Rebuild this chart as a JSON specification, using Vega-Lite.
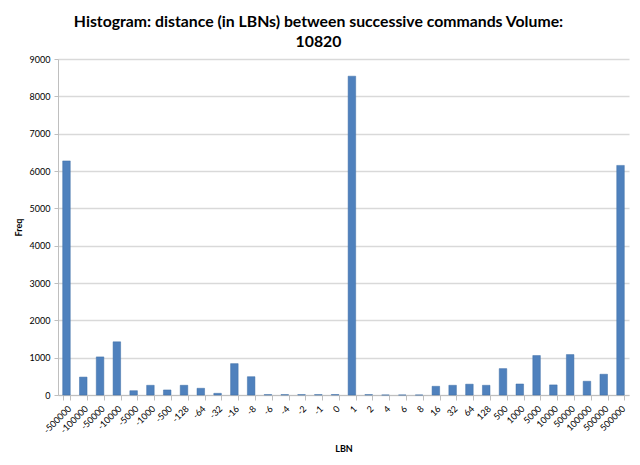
{
  "$schema": "https://vega.github.io/schema/vega-lite/v6.json",
  "width": 571,
  "height": 336,
  "autosize": "none",
  "padding": {"left": 58, "top": 59, "right": 11, "bottom": 70},
  "background": "white",
  "title": {
    "text": ["Histogram: distance (in LBNs) between successive commands Volume:", "10820"],
    "font": "Lato",
    "fontSize": 15.8,
    "fontWeight": "bold",
    "color": "#000000",
    "anchor": "middle",
    "dx": -25,
    "offset": 4,
    "lineHeight": 20
  },
  "data": {
    "values": [
      {"bin": "-500000", "freq": 6270},
      {"bin": "-100000", "freq": 480},
      {"bin": "-50000", "freq": 1020},
      {"bin": "-10000", "freq": 1425},
      {"bin": "-5000", "freq": 115},
      {"bin": "-1000", "freq": 260},
      {"bin": "-500", "freq": 135},
      {"bin": "-128", "freq": 260},
      {"bin": "-64", "freq": 180},
      {"bin": "-32", "freq": 45},
      {"bin": "-16", "freq": 840},
      {"bin": "-8", "freq": 490},
      {"bin": "-6", "freq": 10},
      {"bin": "-4", "freq": 10},
      {"bin": "-2", "freq": 10},
      {"bin": "-1", "freq": 10},
      {"bin": "0", "freq": 12},
      {"bin": "1", "freq": 8540},
      {"bin": "2", "freq": 10},
      {"bin": "4", "freq": 0},
      {"bin": "6", "freq": 0},
      {"bin": "8", "freq": 0},
      {"bin": "16", "freq": 233},
      {"bin": "32", "freq": 260},
      {"bin": "64", "freq": 290},
      {"bin": "128", "freq": 260},
      {"bin": "500", "freq": 707},
      {"bin": "1000", "freq": 295},
      {"bin": "5000", "freq": 1057},
      {"bin": "10000", "freq": 270},
      {"bin": "50000", "freq": 1083},
      {"bin": "100000", "freq": 368},
      {"bin": "500000", "freq": 556},
      {"bin": "500000 ", "freq": 6150}
    ]
  },
  "mark": {"type": "bar", "color": "#4F81BD", "stroke": "#3f6ea6", "strokeWidth": 0.5},
  "encoding": {
    "x": {
      "field": "bin",
      "type": "ordinal",
      "sort": null,
      "scale": {"paddingInner": 0.55, "paddingOuter": 0.28},
      "axis": {
        "title": "LBN",
        "titleFont": "Lato",
        "titleFontSize": 9,
        "titleFontWeight": "bold",
        "titleColor": "#000000",
        "titlePadding": 10,
        "labelAngle": -45,
        "labelFont": "Lato",
        "labelFontSize": 9,
        "labelColor": "#000000",
        "labelPadding": 4,
        "tickBand": "extent",
        "tickSize": 5,
        "tickColor": "#bfbfbf",
        "domainColor": "#bfbfbf",
        "grid": false
      }
    },
    "y": {
      "field": "freq",
      "type": "quantitative",
      "scale": {"domain": [0, 9000]},
      "axis": {
        "title": "Freq",
        "titleFont": "Lato",
        "titleFontSize": 9,
        "titleFontWeight": "bold",
        "titleColor": "#000000",
        "titlePadding": 6,
        "values": [0, 1000, 2000, 3000, 4000, 5000, 6000, 7000, 8000, 9000],
        "format": "d",
        "labelFont": "Lato",
        "labelFontSize": 9,
        "labelColor": "#000000",
        "labelPadding": 4,
        "tickSize": 4,
        "tickColor": "#bfbfbf",
        "domainColor": "#bfbfbf",
        "gridColor": "#d9d9d9",
        "gridWidth": 1.5
      }
    }
  },
  "config": {
    "view": {"stroke": null}
  }
}
